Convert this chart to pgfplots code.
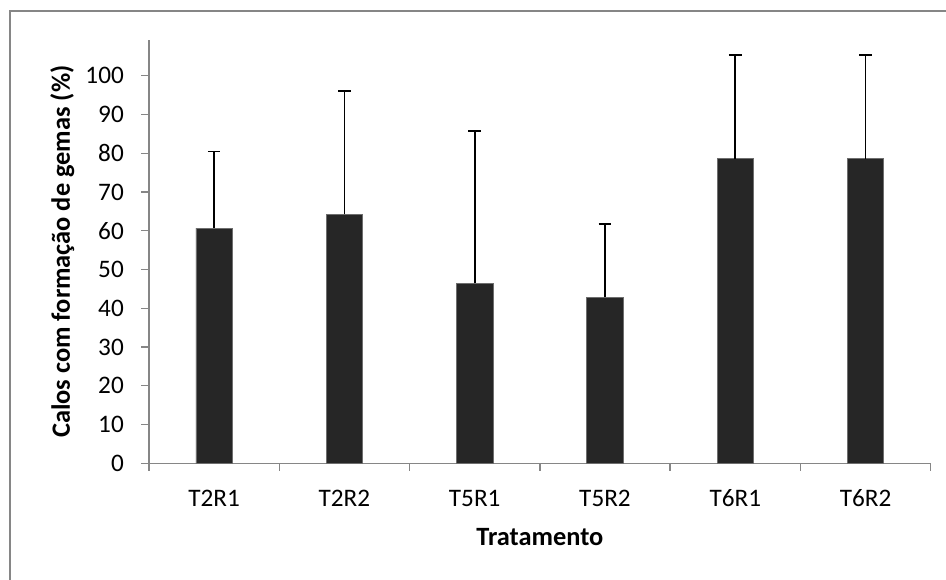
\documentclass[border=0pt]{standalone}
\usepackage{fontspec}
\setmainfont{Carlito}
\usepackage{pgfplots}
\pgfplotsset{compat=1.18}
\definecolor{axgray}{HTML}{868686}
\definecolor{barfill}{HTML}{262626}
\definecolor{baredge}{HTML}{6E6E6E}
\begin{document}
\begin{tikzpicture}
\useasboundingbox (0bp,0bp) rectangle (946bp,580bp);
\draw[axgray, line width=1.3bp] (10bp,0bp) -- (10bp,569bp) -- (946bp,569bp);
\begin{axis}[
  at={(149bp,116.7bp)}, anchor=south west,
  scale only axis, width=781.7bp, height=423.3bp,
  xmin=-0.5, xmax=5.5, ymin=0, ymax=109.2,
  axis lines=left,
  x axis line style={-}, y axis line style={-},
  axis line style={axgray, line width=1.3bp},
  ybar, bar width=0.28,
  ytick={0,10,...,100},
  tick align=outside,
  tick style={axgray, line width=1.3bp},
  major tick length=7.5bp,
  /pgf/number format/assume math mode=true,
  tick label style={font=\fontsize{25.3}{30}\selectfont},
  label style={font=\fontsize{26.5}{31}\selectfont\bfseries},
  xtick={-0.5,0.5,1.5,2.5,3.5,4.5,5.5},
  xticklabels={,,,,,,},
  extra x ticks={0,1,2,3,4,5},
  extra x tick labels={T2R1,T2R2,T5R1,T5R2,T6R1,T6R2},
  extra x tick style={major tick length=0pt, grid=none,
     xticklabel style={anchor=base, inner sep=0pt, yshift=-42.7bp}},
  yticklabel style={anchor=east, inner sep=0pt, xshift=-17.5bp},
  ylabel={Calos com formação de gemas (\%)},
  ylabel style={at={(rel axis cs:-0.1011,0.5)}, anchor=base, inner sep=0pt},
  xlabel={Tratamento},
  xlabel style={at={(rel axis cs:0.5,-0.1947)}, anchor=base, inner sep=0pt},
  clip=false,
]
\addplot[fill=barfill, draw=baredge, line width=0.8bp,
  error bars/.cd, y dir=plus, y explicit, error mark=|,
  error bar style={black, line width=1.6bp},
  error mark options={black, line width=1.6bp, mark size=6.3bp}]
  table[x=x, y=y, y error=e] {
x y e
0 60.7 19.7
1 64.2 31.9
2 46.4 39.4
3 42.9 18.9
4 78.6 26.8
5 78.6 26.8
};
\end{axis}
\end{tikzpicture}
\end{document}
